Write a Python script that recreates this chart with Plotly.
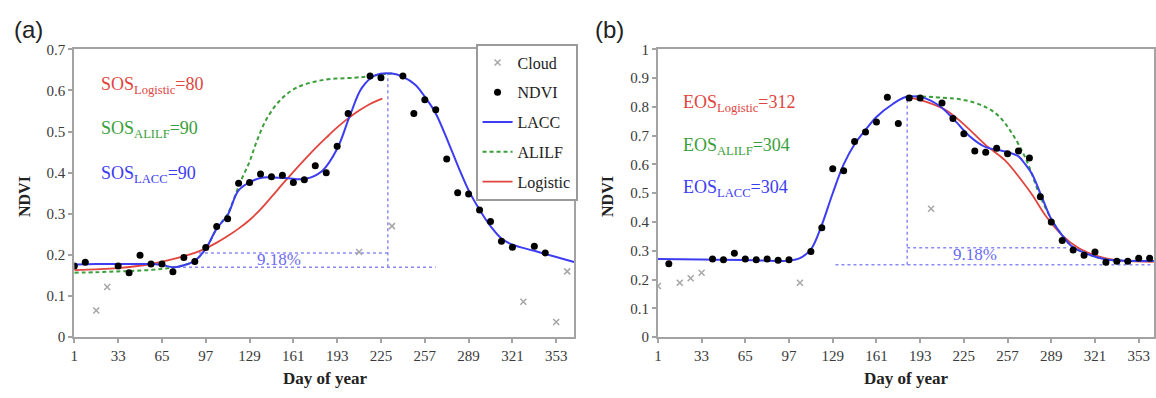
import plotly.graph_objects as go

# ---------------- data ----------------
x_ticks = [1, 33, 65, 97, 129, 161, 193, 225, 257, 289, 321, 353]

# Panel (a)
a_ndvi_day = [1, 9, 33, 41, 49, 57, 65, 73, 81, 89, 97, 105, 113, 121, 129, 137, 145, 153, 161,
              169, 177, 185, 193, 201, 217, 225, 241, 249, 257, 265, 273, 281, 289, 297, 305,
              313, 321, 337, 345]
a_ndvi_val = [0.173, 0.182, 0.173, 0.157, 0.199, 0.178, 0.178, 0.159, 0.194, 0.184, 0.218, 0.269,
              0.288, 0.374, 0.376, 0.397, 0.390, 0.394, 0.376, 0.383, 0.417, 0.400, 0.464, 0.544,
              0.635, 0.631, 0.635, 0.544, 0.577, 0.553, 0.433, 0.351, 0.348, 0.309, 0.281, 0.233,
              0.219, 0.221, 0.205]
a_cloud_day = [17, 25, 209, 233, 329, 353, 361]
a_cloud_val = [0.065, 0.122, 0.207, 0.270, 0.086, 0.037, 0.160]

a_lacc_day = [1, 17, 33, 49, 59, 66, 73, 81, 89, 97, 105, 113, 121, 131, 139, 155, 170, 182, 193,
              202, 211, 221, 233, 241, 250, 258, 265, 275, 282, 289, 297, 305, 313, 321, 337, 353, 366]
a_lacc_val = [0.177, 0.178, 0.178, 0.178, 0.178, 0.175, 0.170, 0.175, 0.186, 0.215, 0.264, 0.297,
              0.357, 0.380, 0.388, 0.387, 0.385, 0.404, 0.458, 0.536, 0.606, 0.637, 0.641, 0.633,
              0.614, 0.580, 0.544, 0.467, 0.410, 0.357, 0.310, 0.270, 0.240, 0.225, 0.210, 0.195, 0.183]
a_alilf_day = [1, 17, 33, 49, 65, 77, 89, 97, 105, 113, 118, 122, 129, 134, 141, 151, 163, 182,
               206, 216, 228, 233]
a_alilf_val = [0.157, 0.158, 0.160, 0.162, 0.166, 0.172, 0.186, 0.215, 0.264, 0.300, 0.340, 0.375,
               0.427, 0.474, 0.528, 0.575, 0.606, 0.625, 0.631, 0.634, 0.640, 0.641]
a_logi_day = [1, 33, 57, 73, 89, 97, 105, 113, 121, 129, 137, 145, 153, 161, 169, 177, 185, 193,
              201, 209, 217, 226]
a_logi_val = [0.163, 0.168, 0.178, 0.190, 0.205, 0.216, 0.230, 0.246, 0.264, 0.285, 0.311, 0.341,
              0.372, 0.402, 0.431, 0.459, 0.485, 0.510, 0.532, 0.551, 0.567, 0.580]

# Panel (b)
b_ndvi_day = [9, 41, 49, 57, 65, 73, 81, 89, 97, 113, 121, 129, 137, 145, 153, 161, 169, 177, 185,
              193, 209, 217, 225, 233, 241, 249, 257, 265, 273, 281, 289, 297, 305, 313, 321, 329,
              337, 345, 353, 361]
b_ndvi_val = [0.255, 0.272, 0.269, 0.292, 0.272, 0.269, 0.272, 0.267, 0.269, 0.298, 0.380, 0.585,
              0.578, 0.680, 0.713, 0.747, 0.833, 0.742, 0.831, 0.831, 0.813, 0.760, 0.707, 0.647,
              0.642, 0.656, 0.637, 0.647, 0.622, 0.488, 0.400, 0.336, 0.303, 0.285, 0.296, 0.260,
              0.264, 0.264, 0.274, 0.274]
b_cloud_day = [1, 17, 25, 33, 105, 201]
b_cloud_val = [0.178, 0.189, 0.205, 0.224, 0.189, 0.446]

b_lacc_day = [1, 33, 65, 89, 97, 105, 113, 121, 129, 137, 145, 153, 161, 173, 183, 195, 207, 217,
              229, 241, 251, 257, 265, 270, 275, 282, 289, 297, 304, 316, 328, 340, 364]
b_lacc_val = [0.272, 0.270, 0.268, 0.265, 0.266, 0.275, 0.305, 0.390, 0.500, 0.600, 0.670, 0.720,
              0.765, 0.810, 0.835, 0.832, 0.804, 0.760, 0.699, 0.660, 0.649, 0.643, 0.628, 0.600,
              0.566, 0.488, 0.410, 0.354, 0.316, 0.288, 0.271, 0.266, 0.265]
b_alilf_day = [184, 209, 226, 241, 251, 260, 268, 273, 280, 289, 297, 304, 316, 328, 340, 364]
b_alilf_val = [0.838, 0.832, 0.823, 0.799, 0.766, 0.710, 0.643, 0.590, 0.500, 0.410, 0.354, 0.316,
               0.288, 0.271, 0.266, 0.265]
b_logi_day = [183, 197, 212, 226, 241, 255, 268, 275, 285, 297, 309, 323, 340, 364]
b_logi_val = [0.835, 0.818, 0.788, 0.735, 0.667, 0.615, 0.540, 0.495, 0.421, 0.354, 0.310, 0.282,
              0.266, 0.262]

# threshold guide lines (day, value)
a_guide_vert = ([230, 230], [0.170, 0.640])
a_guide_low = ([76, 265], [0.170, 0.170])
a_guide_up = ([92, 230], [0.205, 0.205])
b_guide_vert = ([183.5, 183.5], [0.252, 0.840])
b_guide_low = ([131, 364], [0.252, 0.252])
b_guide_up = ([183.5, 301], [0.311, 0.311])

# ---------------- style ----------------
W, H = 1156, 398
SERIF = "Liberation Serif"
SANS = "Liberation Sans"
C_BLUE = "#3c3cf2"
C_GREEN = "#3a9e3a"
C_RED = "#e0453e"
C_CLOUD = "#a6a6a6"
C_GUIDE = "#8a8af5"
AX_COL = "#a3a3a3"


def px_x(p):
    return p / W


def px_y(p):
    return (H - p) / H


fig = go.Figure()


def add_panel(xa, ya, nd, nv, cd, cv, ld, lv, gd, gv, rd, rv, guides, show):
    for gx, gy in guides:
        fig.add_trace(go.Scatter(x=gx, y=gy, mode="lines", xaxis=xa, yaxis=ya,
                                 line=dict(color=C_GUIDE, width=1.5, dash="dot"),
                                 showlegend=False, hoverinfo="skip"))
    fig.add_trace(go.Scatter(x=cd, y=cv, mode="markers", name="Cloud", xaxis=xa, yaxis=ya,
                             marker=dict(symbol="x-thin-open", size=6, color=C_CLOUD,
                                         line=dict(color=C_CLOUD, width=1.5)),
                             showlegend=show, legendgroup="g1", legendrank=1))
    fig.add_trace(go.Scatter(x=rd, y=rv, mode="lines", name="Logistic", xaxis=xa, yaxis=ya,
                             line=dict(color=C_RED, width=1.8, shape="spline"),
                             showlegend=show, legendgroup="g5", legendrank=5))
    fig.add_trace(go.Scatter(x=gd, y=gv, mode="lines", name="ALILF", xaxis=xa, yaxis=ya,
                             line=dict(color=C_GREEN, width=2, dash="4px,3px", shape="spline"),
                             showlegend=show, legendgroup="g4", legendrank=4))
    fig.add_trace(go.Scatter(x=ld, y=lv, mode="lines", name="LACC", xaxis=xa, yaxis=ya,
                             line=dict(color=C_BLUE, width=2, shape="spline"),
                             showlegend=show, legendgroup="g3", legendrank=3))
    fig.add_trace(go.Scatter(x=nd, y=nv, mode="markers", name="NDVI", xaxis=xa, yaxis=ya,
                             marker=dict(symbol="circle", size=7, color="black"),
                             showlegend=show, legendgroup="g2", legendrank=2))


add_panel("x", "y", a_ndvi_day, a_ndvi_val, a_cloud_day, a_cloud_val, a_lacc_day, a_lacc_val,
          a_alilf_day, a_alilf_val, a_logi_day, a_logi_val,
          [a_guide_vert, a_guide_low, a_guide_up], True)
add_panel("x2", "y2", b_ndvi_day, b_ndvi_val, b_cloud_day, b_cloud_val, b_lacc_day, b_lacc_val,
          b_alilf_day, b_alilf_val, b_logi_day, b_logi_val,
          [b_guide_vert, b_guide_low, b_guide_up], False)

ydom = [px_y(343), px_y(43)]
common_x = dict(tickmode="array", tickvals=x_ticks, showgrid=False, zeroline=False,
                showline=True, linecolor=AX_COL, linewidth=2, mirror=True,
                ticks="outside", ticklen=4, tickcolor=AX_COL, tickwidth=1.5,
                tickfont=dict(family=SERIF, size=15, color="#3a3a3a"))
common_y = dict(showgrid=False, zeroline=False, showline=True, linecolor=AX_COL, linewidth=2,
                mirror=True, ticks="outside", ticklen=4, tickcolor=AX_COL, tickwidth=1.5,
                tickfont=dict(family=SERIF, size=15, color="#3a3a3a"), dtick=0.1)

fig.update_layout(
    width=W, height=H,
    margin=dict(l=0, r=0, t=0, b=0),
    font=dict(family=SERIF),
    paper_bgcolor="white", plot_bgcolor="white",
    xaxis=dict(domain=[px_x(70.7), px_x(573)], range=[1, 366], anchor="y", **common_x),
    yaxis=dict(domain=ydom, range=[0, 0.7], anchor="x", **common_y),
    xaxis2=dict(domain=[px_x(657.3), 1.0], range=[1, 364.2], anchor="y2", **common_x),
    yaxis2=dict(domain=ydom, range=[0, 1.0], anchor="x2", **common_y),
    legend=dict(x=px_x(474), y=px_y(37), xanchor="left", yanchor="top",
                bgcolor="white", bordercolor="#9a9a9a", borderwidth=2,
                font=dict(family=SERIF, size=16, color="#222"),
                tracegroupgap=6, itemwidth=30),
    showlegend=True,
)

ann = []


def text(xp, yp, s, size, color, anchor="left", angle=0, family=SERIF):
    ann.append(dict(x=px_x(xp), y=px_y(yp), xref="paper", yref="paper", text=s,
                    showarrow=False, xanchor=anchor, yanchor="middle", textangle=angle,
                    font=dict(family=family, size=size, color=color)))


text(8, 22, "(a)", 24, "#222", family=SANS)
text(592, 22, "(b)", 24, "#222", family=SANS)

text(95, 81, "SOS<sub>Logistic</sub>=80", 18, C_RED)
text(95, 127, "SOS<sub>ALILF</sub>=90", 18, C_GREEN)
text(95, 173, "SOS<sub>LACC</sub>=90", 18, C_BLUE)
text(681, 100, "EOS<sub>Logistic</sub>=312", 18, C_RED)
text(681, 144, "EOS<sub>ALILF</sub>=304", 18, C_GREEN)
text(681, 188, "EOS<sub>LACC</sub>=304", 18, C_BLUE)

text(276, 262, "9.18%", 17, "#6a6af0", anchor="center")
text(976, 257, "9.18%", 17, "#6a6af0", anchor="center")

text(20, 196, "<b>NDVI</b>", 16, "#222", anchor="center", angle=-90)
text(606, 196, "<b>NDVI</b>", 16, "#222", anchor="center", angle=-90)
text(323, 386, "<b>Day of year</b>", 17, "#222", anchor="center")
text(907, 386, "<b>Day of year</b>", 17, "#222", anchor="center")

fig.update_layout(annotations=ann)

fig.write_html("out.html")
